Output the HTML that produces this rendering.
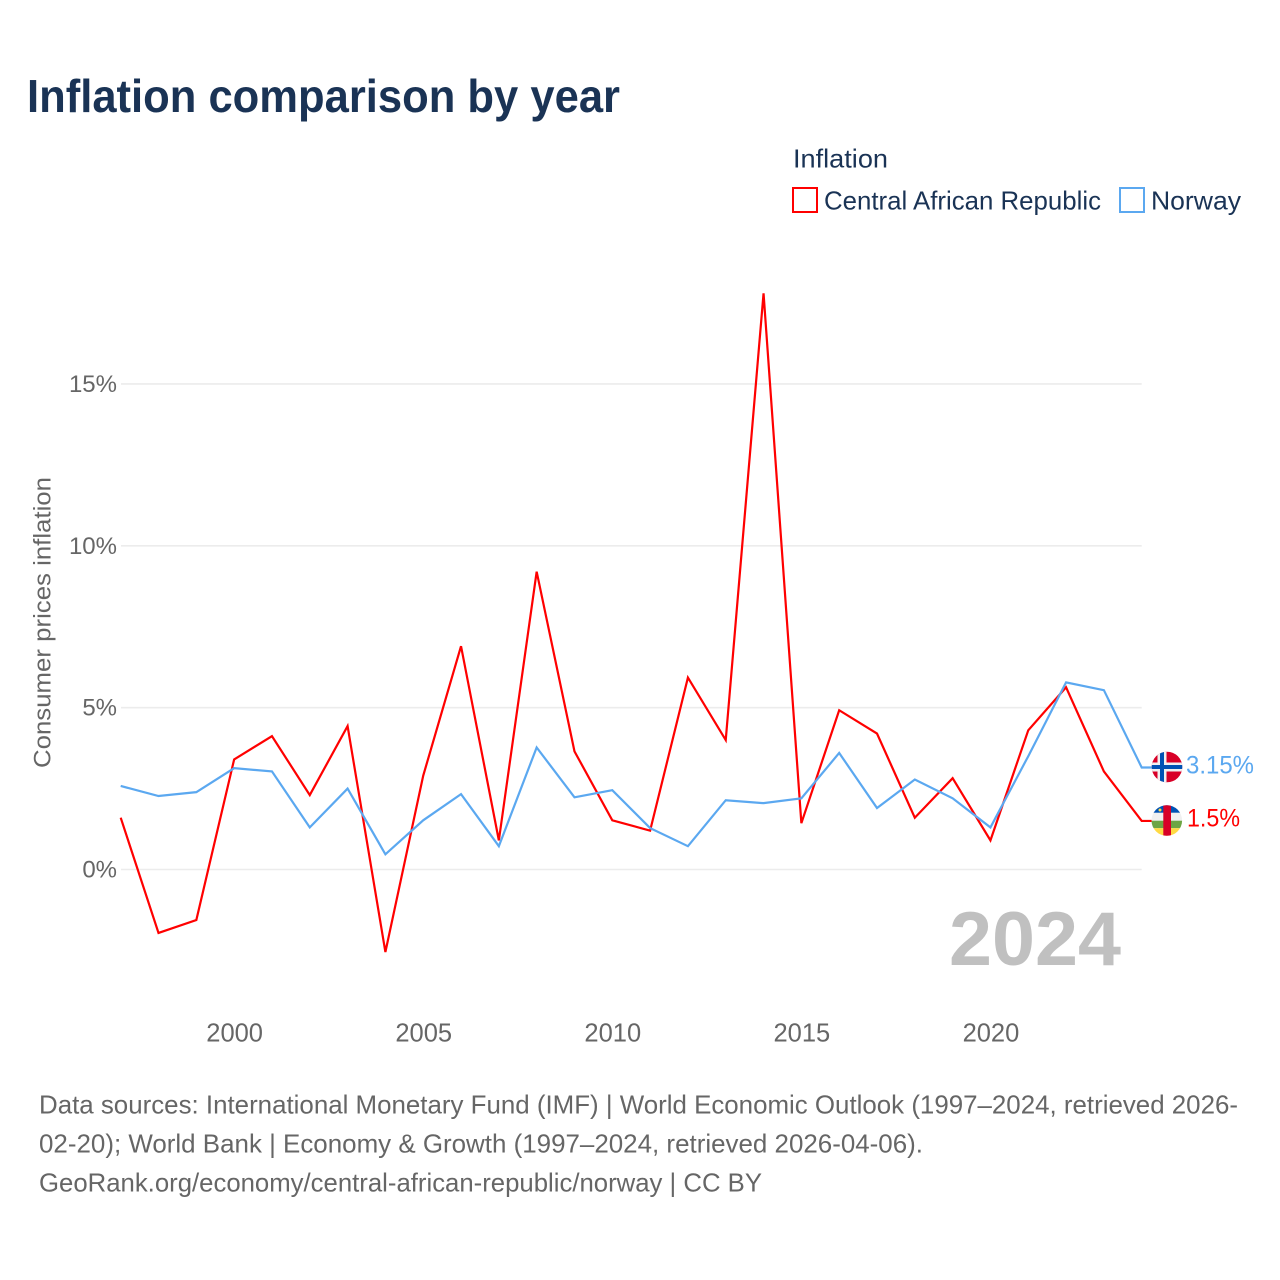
<!DOCTYPE html>
<html lang="en">
<head>
<meta charset="utf-8">
<title>Inflation comparison by year</title>
<style>
html,body{margin:0;padding:0;background:#fff;}
svg{display:block;font-family:"Liberation Sans",sans-serif;}
</style>
</head>
<body>
<svg id="chart" width="1280" height="1280" viewBox="0 0 1280 1280" xmlns="http://www.w3.org/2000/svg">
  <defs>
    <clipPath id="flag-clip-no"><circle cx="1167" cy="767" r="15.3"/></clipPath>
    <clipPath id="flag-clip-cf"><circle cx="1166.8" cy="820.5" r="15.3"/></clipPath>
  </defs>
  <rect x="0" y="0" width="1280" height="1280" fill="#fff"/>
  <text x="27" y="112" font-size="46" font-weight="700" fill="#1a3355" textLength="593" lengthAdjust="spacingAndGlyphs">Inflation comparison by year</text>

  <text x="793" y="167.5" font-size="26" fill="#1a3355" textLength="95" lengthAdjust="spacingAndGlyphs">Inflation</text>
  <g>
    <rect x="793" y="188" width="24" height="24" fill="#fff" stroke="#ff0000" stroke-width="2"/>
    <text x="824" y="209.5" font-size="26" fill="#1a3355" textLength="277" lengthAdjust="spacingAndGlyphs">Central African Republic</text>
  </g>
  <g>
    <rect x="1120" y="188" width="24" height="24" fill="#fff" stroke="#5ba8f0" stroke-width="2"/>
    <text x="1151" y="209.5" font-size="26" fill="#1a3355" textLength="90" lengthAdjust="spacingAndGlyphs">Norway</text>
  </g>

  <g id="grid"></g>
  <g id="y-ticks"></g>
  <g id="x-ticks"></g>
  <text transform="translate(50.5,768) rotate(-90)" font-size="24" fill="#666666" textLength="291" lengthAdjust="spacingAndGlyphs">Consumer prices inflation</text>

  <text x="949" y="965" font-size="76" font-weight="700" fill="#c0c0c0" textLength="172" lengthAdjust="spacingAndGlyphs">2024</text>

  <g id="series"></g>

  <g clip-path="url(#flag-clip-no)">
    <rect x="1151" y="751" width="32" height="32" fill="#d80027"/>
    <rect x="1157.5" y="751" width="9" height="32" fill="#f0f0f0"/>
    <rect x="1151" y="762.5" width="32" height="9" fill="#f0f0f0"/>
    <rect x="1160" y="751" width="4" height="32" fill="#0052b4"/>
    <rect x="1151" y="765" width="32" height="4" fill="#0052b4"/>
  </g>
  <g clip-path="url(#flag-clip-cf)">
    <rect x="1151" y="805" width="32" height="8" fill="#0052b4"/>
    <rect x="1151" y="812.7" width="32" height="8" fill="#f0f0f0"/>
    <rect x="1151" y="820.7" width="32" height="7.5" fill="#6da544"/>
    <rect x="1151" y="828.2" width="32" height="8" fill="#ffda44"/>
    <rect x="1163.3" y="805" width="7.7" height="31" fill="#d80027"/>
    <circle cx="1160" cy="810" r="1.5" fill="#ffda44"/>
  </g>
  <text id="end-label-no" x="1186" y="773.5" font-size="25" fill="#5ba8f0" textLength="68" lengthAdjust="spacingAndGlyphs"></text>
  <text id="end-label-cf" x="1187" y="826.5" font-size="25" fill="#ff0000" textLength="53" lengthAdjust="spacingAndGlyphs"></text>

  <g font-size="26" fill="#666666">
    <text x="39" y="1113.5" textLength="1199" lengthAdjust="spacingAndGlyphs">Data sources: International Monetary Fund (IMF) | World Economic Outlook (1997–2024, retrieved 2026-</text>
    <text x="39" y="1152.5" textLength="884" lengthAdjust="spacingAndGlyphs">02-20); World Bank | Economy &amp; Growth (1997–2024, retrieved 2026-04-06).</text>
    <text x="39" y="1191.5" textLength="723" lengthAdjust="spacingAndGlyphs">GeoRank.org/economy/central-african-republic/norway | CC BY</text>
  </g>
</svg>
<script>
const years = [1997,1998,1999,2000,2001,2002,2003,2004,2005,2006,2007,2008,2009,2010,2011,2012,2013,2014,2015,2016,2017,2018,2019,2020,2021,2022,2023,2024];
const carValues = [1.6,-1.96,-1.56,3.4,4.12,2.3,4.43,-2.55,2.9,6.9,0.9,9.2,3.65,1.52,1.2,5.93,4.0,17.8,1.43,4.92,4.2,1.6,2.82,0.9,4.3,5.63,3.03,1.5];
const norwayValues = [2.58,2.27,2.39,3.13,3.03,1.3,2.5,0.47,1.52,2.33,0.72,3.77,2.23,2.45,1.28,0.72,2.14,2.05,2.2,3.6,1.9,2.78,2.2,1.3,3.5,5.78,5.54,3.15];
const yTickValues = [0,5,10,15];
const xTickValues = [2000,2005,2010,2015,2020];

const NS = 'http://www.w3.org/2000/svg';
function xScale(year){ return 120.7 + (year - 1997) * (1141.7 - 120.7) / 27; }
function yScale(v){ return 869.5 - v * 32.37; }

const grid = document.getElementById('grid');
const yTicks = document.getElementById('y-ticks');
const xTicks = document.getElementById('x-ticks');

yTickValues.forEach(function(v){
  const line = document.createElementNS(NS,'line');
  
  
  line.setAttribute('x1', 121);
  line.setAttribute('x2', 1141.7);
  line.setAttribute('y1', yScale(v));
  line.setAttribute('y2', yScale(v));
  line.setAttribute('stroke', '#ececec');
  line.setAttribute('stroke-width', '1.6');
  grid.appendChild(line);

  const t = document.createElementNS(NS,'text');
  
  
  t.setAttribute('x', 117);
  t.setAttribute('y', yScale(v) + 8);
  t.setAttribute('text-anchor', 'end');
  t.setAttribute('font-size', '24');
  t.setAttribute('fill', '#666666');
  t.textContent = v + '%';
  yTicks.appendChild(t);
});

xTickValues.forEach(function(y){
  const t = document.createElementNS(NS,'text');
  
  
  t.setAttribute('x', xScale(y) + 0.5);
  t.setAttribute('y', 1041.5);
  t.setAttribute('text-anchor', 'middle');
  t.setAttribute('font-size', '25.5');
  t.setAttribute('fill', '#666666');
  t.textContent = y;
  xTicks.appendChild(t);
});

function pathFor(values){
  let pts = values.map(function(v,i){ return xScale(years[i]).toFixed(2) + ',' + yScale(v).toFixed(2); });
  const last = values[values.length - 1];
  pts.push((xScale(years[years.length - 1]) + 10).toFixed(2) + ',' + yScale(last).toFixed(2));
  return pts.join(' ');
}

const seriesGroup = document.getElementById('series');

const carLine = document.createElementNS(NS,'polyline');


carLine.setAttribute('points', pathFor(carValues));
carLine.setAttribute('fill', 'none');
carLine.setAttribute('stroke', '#ff0000');
carLine.setAttribute('stroke-width', '2.2');
seriesGroup.appendChild(carLine);

const norwayLine = document.createElementNS(NS,'polyline');


norwayLine.setAttribute('points', pathFor(norwayValues));
norwayLine.setAttribute('fill', 'none');
norwayLine.setAttribute('stroke', '#5ba8f0');
norwayLine.setAttribute('stroke-width', '2.2');
seriesGroup.appendChild(norwayLine);

document.getElementById('end-label-no').textContent = norwayValues[norwayValues.length - 1] + '%';
document.getElementById('end-label-cf').textContent = carValues[carValues.length - 1] + '%';
</script>
</body>
</html>
